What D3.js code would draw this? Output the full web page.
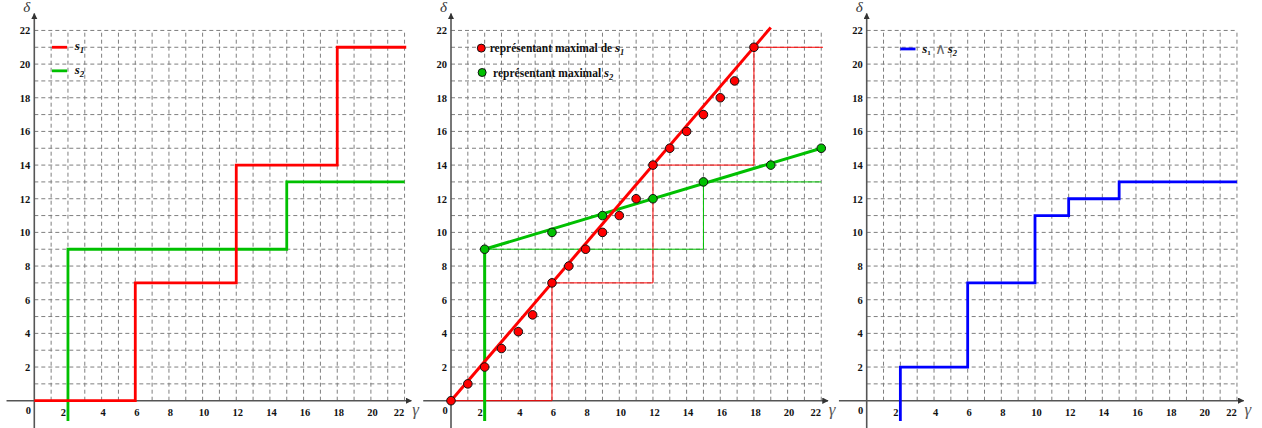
<!DOCTYPE html>
<html>
<head>
<meta charset="utf-8">
<script src="https://cdn.jsdelivr.net/npm/d3@7"></script>
<style>
  body { margin: 0; background: #fff; }
  svg { display: block; }
  .grid line { stroke: #7f7f7f; stroke-width: 1; stroke-dasharray: 4,3; }
  .axis-line { stroke: #555; stroke-width: 1.6; fill: none; }
  .tick text { font-family: "Liberation Serif", serif; font-weight: bold; font-size: 10.5px; fill: #111; }
  .leg { font-family: "Liberation Serif", serif; font-weight: bold; fill: #111; }
</style>
</head>
<body>
<script>
// ticks (both axes)
var xTicks = [2, 4, 6, 8, 10, 12, 14, 16, 18, 20, 22];
var yTicks = [2, 4, 6, 8, 10, 12, 14, 16, 18, 20, 22];
var gridVals = d3.range(1, 23);

// s1 step function (breakpoints, value from that point on)
var s1X = [0, 6, 12, 18, 22.1];
var s1Y = [0, 7, 14, 21, 21];

// s2 step function (starts below the axis at gamma = 2)
var s2X = [2, 2, 15, 22];
var s2Y = [-1.2, 9, 13, 13];

// s1 /\ s2
var meetX = [2, 2, 6, 10, 12, 15, 22];
var meetY = [-1.2, 2, 7, 11, 12, 13, 13];

// maximal representatives (dots)
var rep1X = [0, 1, 2, 3, 4, 4.85, 6, 7, 8, 9, 10, 11, 12, 13, 14, 15, 16, 16.85, 18];
var rep1Y = [0, 1, 2, 3.1, 4.1, 5.1, 7, 8, 9, 10, 11, 12, 14, 15, 16, 17, 18, 19, 21];
var rep2X = [2, 6, 9, 12, 15, 19, 22];
var rep2Y = [9, 10, 11, 12, 13, 14, 15];

// straight lines through the representatives
var line1X = [0, 19];
var line1Y = [0, 22.17];
var line2X = [2, 2, 22];
var line2Y = [-1.2, 9, 15];

var W = 1262, H = 428;
var unit = 16.83, yZero = 400.7;
var panelX = [34.3, 451, 866.7];

var red = "#ff0000", green = "#00c000", blue = "#0000ff";

function pts(xs, ys) { return xs.map(function(v, i) { return [v, ys[i]]; }); }

var svg = d3.select("body").append("svg")
  .attr("width", W)
  .attr("height", H);

var defs = svg.append("defs");
defs.append("marker")
  .attr("id", "arrow")
  .attr("viewBox", "0 0 10 10")
  .attr("refX", 9).attr("refY", 5)
  .attr("markerWidth", 4).attr("markerHeight", 4)
  .attr("orient", "auto")
  .append("path")
  .attr("d", "M0,0 L10,5 L0,10 z")
  .attr("fill", "#333");

// build one panel, returns its scales
function panel(i) {
  var x0 = panelX[i];
  var x = d3.scaleLinear().domain([0, 22]).range([x0, x0 + 22 * unit]);
  var y = d3.scaleLinear().domain([0, 22]).range([yZero, yZero - 22 * unit]);
  var g = svg.append("g");

  // dashed grid
  var grid = g.append("g").attr("class", "grid");
  grid.selectAll(".v").data(gridVals).enter().append("line")
    .attr("x1", function(d) { return x(d); })
    .attr("x2", function(d) { return x(d); })
    .attr("y1", y(0)).attr("y2", y(22));
  grid.selectAll(".h").data(gridVals).enter().append("line")
    .attr("y1", function(d) { return y(d); })
    .attr("y2", function(d) { return y(d); })
    .attr("x1", x(0)).attr("x2", x(22));

  // axes with arrows
  g.append("line").attr("class", "axis-line")
    .attr("x1", x(-1.65)).attr("x2", x(22.4))
    .attr("y1", y(0)).attr("y2", y(0))
    .attr("marker-end", "url(#arrow)");
  g.append("line").attr("class", "axis-line")
    .attr("x1", x(0)).attr("x2", x(0))
    .attr("y1", y(-1.65)).attr("y2", y(23))
    .attr("marker-end", "url(#arrow)");

  // tick labels
  var xa = g.append("g")
    .attr("transform", "translate(0," + y(0) + ")")
    .call(d3.axisBottom(x).tickValues(xTicks).tickSize(0).tickPadding(8));
  xa.select(".domain").remove();
  xa.selectAll(".tick text")
    .attr("dx", function(d) { return d == 2 ? -5 : d == 22 ? -6 : 1; });

  var ya = g.append("g")
    .attr("transform", "translate(" + x(0) + ",0)")
    .call(d3.axisLeft(y).tickValues(yTicks).tickSize(0).tickPadding(4));
  ya.select(".domain").remove();

  g.append("text").attr("class", "leg")
    .attr("x", x(0) - 6).attr("y", y(0) + 13)
    .attr("text-anchor", "middle")
    .style("font-size", "10.5px")
    .text("0");

  // axis names
  g.append("text")
    .attr("x", x(0) - 11).attr("y", 12)
    .style("font-family", "Liberation Serif, serif")
    .style("font-style", "italic")
    .style("font-size", "15px")
    .attr("fill", "#333")
    .text("δ");
  g.append("text")
    .attr("x", x(22.45)).attr("y", y(0) + 14)
    .style("font-family", "Liberation Serif, serif")
    .style("font-style", "italic")
    .style("font-size", "17px")
    .attr("fill", "#555")
    .text("γ");

  return { g: g, x: x, y: y };
}

function stepPath(p, xs, ys, color, w) {
  var line = d3.line()
    .x(function(d) { return p.x(d[0]); })
    .y(function(d) { return p.y(d[1]); })
    .curve(d3.curveStepAfter);
  p.g.append("path")
    .datum(pts(xs, ys))
    .attr("d", line)
    .attr("fill", "none")
    .attr("stroke", color)
    .attr("stroke-width", w);
}

function straight(p, xs, ys, color, w) {
  var line = d3.line()
    .x(function(d) { return p.x(d[0]); })
    .y(function(d) { return p.y(d[1]); });
  p.g.append("path")
    .datum(pts(xs, ys))
    .attr("d", line)
    .attr("fill", "none")
    .attr("stroke", color)
    .attr("stroke-width", w);
}

function dots(p, xs, ys, color) {
  p.g.selectAll(null)
    .data(pts(xs, ys))
    .enter().append("circle")
    .attr("cx", function(d) { return p.x(d[0]); })
    .attr("cy", function(d) { return p.y(d[1]); })
    .attr("r", 4.3)
    .attr("fill", color)
    .attr("stroke", "#111")
    .attr("stroke-width", 1);
}

// subscripted s label
function sLabel(g, xpos, ypos, sub) {
  var t = g.append("text").attr("class", "leg")
    .attr("x", xpos).attr("y", ypos)
    .style("font-size", "13px");
  t.append("tspan").style("font-style", "italic").text("s");
  t.append("tspan").attr("dy", 3).style("font-size", "9px").style("font-style", "italic").text(sub);
  return t;
}

// ---- panel 1 : s1 and s2
var p1 = panel(0);
stepPath(p1, s2X, s2Y, green, 2.8);
stepPath(p1, s1X, s1Y, red, 2.8);

p1.g.append("line").attr("x1", p1.x(1.05)).attr("x2", p1.x(1.95))
  .attr("y1", p1.y(21)).attr("y2", p1.y(21))
  .attr("stroke", red).attr("stroke-width", 2.8);
sLabel(p1.g, p1.x(2.4), p1.y(21) + 3, "1");
p1.g.append("line").attr("x1", p1.x(1.05)).attr("x2", p1.x(1.95))
  .attr("y1", p1.y(19.6)).attr("y2", p1.y(19.6))
  .attr("stroke", green).attr("stroke-width", 2.8);
sLabel(p1.g, p1.x(2.4), p1.y(19.6) + 3, "2");

// ---- panel 2 : maximal representatives
var p2 = panel(1);
stepPath(p2, s1X, s1Y, red, 1);
stepPath(p2, s2X, s2Y, green, 1);
straight(p2, line2X, line2Y, green, 3);
straight(p2, line1X, line1Y, red, 3);
dots(p2, rep2X, rep2Y, green);
dots(p2, rep1X, rep1Y, red);

p2.g.append("circle").attr("cx", p2.x(1.8)).attr("cy", p2.y(20.95)).attr("r", 4)
  .attr("fill", red).attr("stroke", "#111").attr("stroke-width", 1);
var t1 = p2.g.append("text").attr("class", "leg")
  .attr("x", p2.x(2.3)).attr("y", p2.y(20.95) + 4)
  .style("font-size", "11.5px");
t1.append("tspan").text("représentant maximal de ");
t1.append("tspan").style("font-style", "italic").style("font-size", "13px").text("s");
t1.append("tspan").attr("dy", 3).style("font-style", "italic").style("font-size", "8.5px").text("1");

p2.g.append("circle").attr("cx", p2.x(1.85)).attr("cy", p2.y(19.5)).attr("r", 4)
  .attr("fill", green).attr("stroke", "#111").attr("stroke-width", 1);
var t2 = p2.g.append("text").attr("class", "leg")
  .attr("x", p2.x(2.5)).attr("y", p2.y(19.5) + 4)
  .style("font-size", "11.5px");
t2.append("tspan").text("représentant maximal ");
t2.append("tspan").style("font-style", "italic").style("font-size", "13px").text("s");
t2.append("tspan").attr("dy", 3).style("font-style", "italic").style("font-size", "8.5px").text("2");

// ---- panel 3 : s1 /\ s2
var p3 = panel(2);
stepPath(p3, meetX, meetY, blue, 2.8);

p3.g.append("line").attr("x1", p3.x(2)).attr("x2", p3.x(2.9))
  .attr("y1", p3.y(20.9)).attr("y2", p3.y(20.9))
  .attr("stroke", blue).attr("stroke-width", 2.8);
var t3 = p3.g.append("text").attr("class", "leg")
  .attr("x", p3.x(3.3)).attr("y", p3.y(20.9) + 4)
  .style("font-size", "13px");
t3.append("tspan").style("font-style", "italic").text("s");
t3.append("tspan").attr("dy", 2).style("font-size", "7px").text("1");
t3.append("tspan").attr("dy", -1).attr("dx", 4).style("font-weight", "normal").style("font-size", "15px").attr("fill", "#666").text("∧");
t3.append("tspan").attr("dy", -1).attr("dx", 2).style("font-style", "italic").text("s");
t3.append("tspan").attr("dy", 3).style("font-size", "8.5px").style("font-style", "italic").text("2");
</script>
</body>
</html>
